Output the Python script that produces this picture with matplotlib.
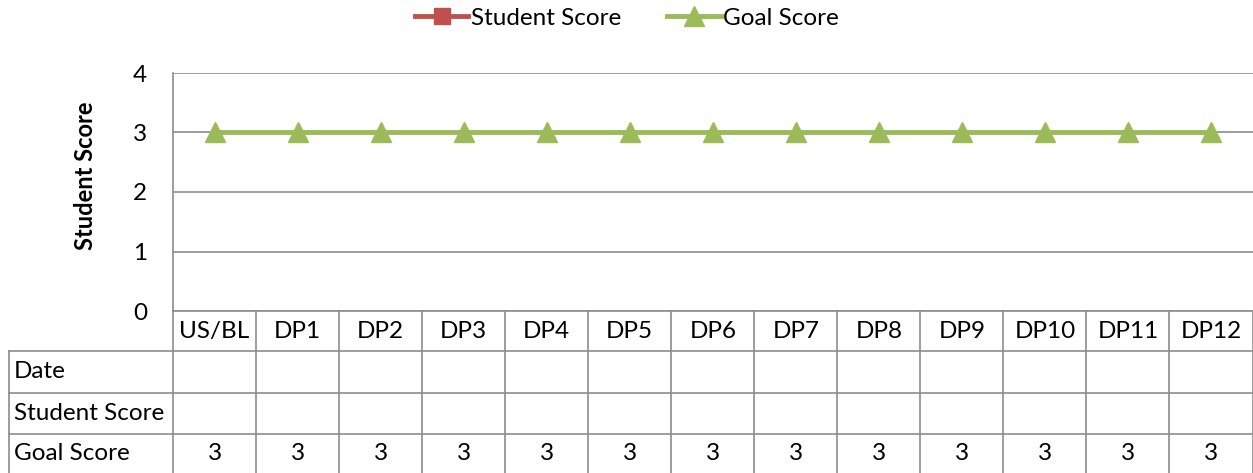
import numpy as np
import matplotlib
matplotlib.use("Agg")
import matplotlib.pyplot as plt
from matplotlib.lines import Line2D

categories = ["US/BL", "DP1", "DP2", "DP3", "DP4", "DP5", "DP6", "DP7", "DP8", "DP9", "DP10", "DP11", "DP12"]
dates = [""] * 13
student_score = [None] * 13
goal_score = [3] * 13
row_labels = ["Date", "Student Score", "Goal Score"]
y_ticks = [0, 1, 2, 3, 4]

plt.rcParams['font.family'] = ['Lato', 'DejaVu Sans']
FS = 17.5

W, H = 1253, 473
fig = plt.figure(figsize=(W / 100, H / 100), dpi=100)

L, R, T, B = 173, 1252.5, 73, 311
ax = fig.add_axes([L / W, 1 - B / H, (R - L) / W, (B - T) / H])
grid_c = "#8c8c8c"
red = "#C0504D"
green = "#9BBB59"

x = np.arange(len(categories))
ss = np.array([np.nan if v is None else v for v in student_score], dtype=float)
gs = np.array(goal_score, dtype=float)
ax.plot(x, ss, color=red, lw=3.5, marker="s", ms=12, label="Student Score")
ax.plot(x, gs, color=green, lw=3.5, marker="^", ms=14, label="Goal Score", zorder=5)

ax.set_xlim(-0.5, len(categories) - 0.5)
ax.set_ylim(0, 4)
ax.set_yticks(y_ticks)
ax.set_yticklabels([str(t) for t in y_ticks], fontsize=FS)
ax.tick_params(axis="y", length=0, pad=18.5)
ax.set_xticks([])
ax.yaxis.grid(True, color=grid_c, lw=1.2)
ax.set_axisbelow(True)
for s in ["top", "right", "bottom"]:
    ax.spines[s].set_visible(False)
ax.spines["left"].set_color(grid_c)
ax.spines["left"].set_linewidth(1.2)
ax.set_ylabel("Student Score", fontsize=FS - 0.5, fontweight="bold")
ax.yaxis.set_label_coords(-(L - 97) / (R - L), (B - 176) / (B - T))

# table overlay in pixel coords
tx = fig.add_axes([0, 0, 1, 1])
tx.set_xlim(0, W)
tx.set_ylim(H, 0)
tx.axis("off")
tx.patch.set_alpha(0)

n = len(categories)
cw = (R - L) / n
rows_y = [311, 350.5, 392.5, 433.5, 474]
lc = grid_c
lw = 1.2
tx.plot([L, R], [rows_y[0], rows_y[0]], color=lc, lw=lw)
for yy in rows_y[1:]:
    tx.plot([9, R], [yy, yy], color=lc, lw=lw)
for i in range(n + 1):
    xx = L + i * cw
    tx.plot([xx, xx], [rows_y[0], rows_y[-1]], color=lc, lw=lw)
tx.plot([9, 9], [rows_y[1], rows_y[-1]], color=lc, lw=lw)

for i, c in enumerate(categories):
    tx.text(L + (i + 0.5) * cw, (rows_y[0] + rows_y[1]) / 2 + 1, c, ha="center", va="center", fontsize=FS)

table_rows = [dates, student_score, goal_score]
for r, (lab, vals) in enumerate(zip(row_labels, table_rows)):
    yc = (rows_y[r + 1] + rows_y[r + 2]) / 2
    if r == 2:
        yc = (rows_y[3] + 473) / 2
    tx.text(14, yc, lab, ha="left", va="center", fontsize=FS)
    for i, v in enumerate(vals):
        if v is None or v == "":
            continue
        tx.text(L + (i + 0.5) * cw, yc, str(v), ha="center", va="center", fontsize=FS)

handles = [Line2D([], [], color=red, lw=3.5, marker="s", ms=12),
           Line2D([], [], color=green, lw=3.5, marker="^", ms=14)]
fig.legend(handles, ["Student Score", "Goal Score"], loc="center", bbox_to_anchor=(627 / W, 1 - 18 / H),
           ncol=2, frameon=False, fontsize=FS, handlelength=2.2, handletextpad=0.1, columnspacing=1.9)

fig.savefig("out.png", dpi=100)
